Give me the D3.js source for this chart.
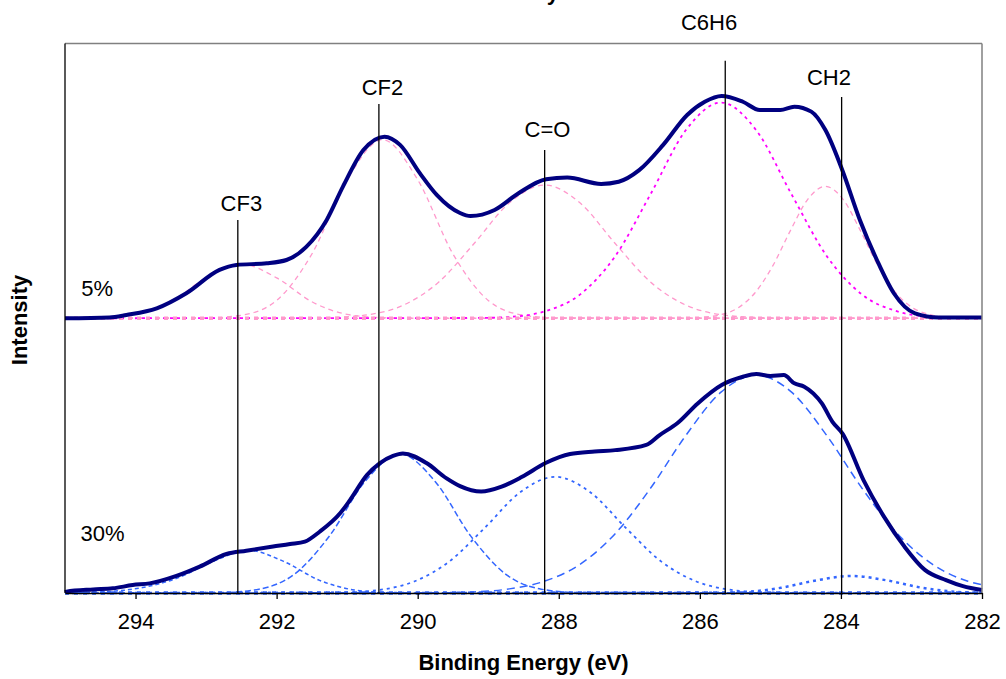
<!DOCTYPE html>
<html>
<head>
<meta charset="utf-8">
<script src="https://cdn.jsdelivr.net/npm/d3@7/dist/d3.min.js"></script>
<style>
body { margin: 0; background: #fff; }
text { font-family: Arial, "Liberation Sans", sans-serif; }
</style>
</head>
<body>
<div id="chart"></div>
<script>
var margin = { left: 65, right: 24, top: 43.5, bottom: 86 };
var width = 1006 - margin.left - margin.right;
var height = 679 - margin.top - margin.bottom;

// axis
var xTicks = [294, 292, 290, 288, 286, 284, 282];

// the two spectra, stacked
var sampleLabels = ["5%", "30%"];
var offsets = [100, 0];
var sampleLabelX = [294.77, 294.78];
var sampleLabelY = [8.1, 18.9];

// peak markers
var peakNames = ["CF3", "CF2", "C=O", "C6H6", "CH2"];
var peakEnergy = [292.55, 290.55, 288.2, 285.64, 283.99];
var peakLineTop = [135.8, 178, 161.2, 193.7, 180.5];
var peakLabelX = [292.5, 290.5, 288.16, 285.87, 284.17];
var peakLabelY = [139.2, 181.1, 166, 204.9, 184.9];

// 5% envelope [eV, intensity]
var env5 = [[295, 0], [294.37, 0.3], [294.13, 1.2], [293.7, 3.6], [293.28, 9.1], [292.81, 17.6],
  [292.57, 19.4], [292.14, 20.0], [291.86, 21.2], [291.58, 26.0], [291.29, 35.8], [291.06, 47.9],
  [290.77, 61.2], [290.47, 66.1], [290.25, 63.1], [289.97, 52.8], [289.73, 44.9], [289.4, 38.3],
  [289.25, 37.2], [288.91, 39.4], [288.57, 45.5], [288.18, 50.6], [287.88, 51.2], [287.4, 48.9],
  [287.15, 49.7], [286.86, 53.9], [286.52, 63.1], [286.18, 74.0], [285.93, 78.8], [285.69, 80.9],
  [285.39, 78.8], [285.15, 75.8], [284.86, 75.8], [284.66, 77.0], [284.42, 75.2], [284.22, 68.5],
  [283.98, 53.9], [283.73, 35.7], [283.49, 21.2], [283.25, 9.1], [282.95, 1.8], [282.61, 0.3], [282, 0.3]];

// 5% fitted components
var cf3_5 = [[295, 0], [294.5, 0.2], [294, 1.4], [293.5, 6.0], [293, 14.7], [292.5, 19.7], [292, 14.7],
  [291.5, 6.0], [291, 1.4], [290.5, 0.2], [290, 0], [282, 0]];
var cf2_5 = [[295, 0], [293, 0.1], [292.5, 1.1], [292, 6.5], [291.5, 23.4], [291, 50.4], [290.5, 65],
  [290, 50.4], [289.5, 23.4], [289, 6.5], [288.5, 1.1], [288, 0.1], [282, 0]];
var co_5 = [[295, 0], [291.7, 0], [291.2, 0.3], [290.7, 1.3], [290.2, 4.8], [289.7, 13.2], [289.2, 27.2],
  [288.7, 42.0], [288.2, 48.5], [287.7, 42.0], [287.2, 27.2], [286.7, 13.2], [286.2, 4.8], [285.7, 1.3],
  [285.2, 0.3], [284.7, 0], [282, 0]];
var c6h6_5 = [[295, 0], [289.2, 0.1], [288.7, 0.5], [288.2, 2.5], [287.7, 8.6], [287.2, 22.6], [286.7, 45.1],
  [286.2, 68.4], [285.7, 78.5], [285.2, 68.4], [284.7, 45.1], [284.2, 22.6], [283.7, 8.6], [283.2, 2.5],
  [282.7, 0.5], [282.2, 0.1], [282, 0]];
var ch2_5 = [[295, 0], [286.22, 0], [285.97, 0.3], [285.72, 1.2], [285.47, 3.6], [285.22, 9.2], [284.97, 18.9],
  [284.72, 31.7], [284.47, 43.3], [284.22, 48], [283.97, 43.3], [283.72, 31.7], [283.47, 18.9], [283.22, 9.2],
  [282.97, 3.6], [282.72, 1.2], [282.47, 0.3], [282.22, 0], [282, 0]];

// 30% envelope
var env30 = [[295, 0.3], [294.98, 0.5], [294.6, 1.3], [294.32, 1.7], [294.04, 2.9], [293.8, 3.5], [293.42, 6.2],
  [293.09, 9.6], [292.71, 14.2], [292.43, 15.4], [292.05, 16.9], [291.81, 17.8], [291.6, 18.7], [291.39, 22.3],
  [291.1, 29.0], [290.96, 33.8], [290.72, 42.9], [290.54, 47.2], [290.35, 49.9], [290.21, 50.8], [289.87, 47.2],
  [289.59, 41.7], [289.4, 38.9], [289.1, 36.9], [288.81, 38.7], [288.52, 42.3], [288.18, 47.4], [287.84, 50.6],
  [287.49, 51.5], [287.2, 52.0], [286.76, 53.9], [286.57, 57.5], [286.32, 61.8], [286.03, 69.0], [285.69, 75.7],
  [285.39, 78.7], [285.2, 79.7], [285.0, 79.0], [284.81, 79.3], [284.66, 76.3], [284.52, 75.1], [284.27, 69.0],
  [284.12, 62.3], [283.98, 58.1], [283.68, 41.1], [283.39, 27.8], [283.1, 16.9], [282.81, 8.4], [282.51, 4.7],
  [282.27, 2.5], [282, 1.1]];

// 30% fitted components
var cf3_30 = [[295, 0], [294.9, 0.1], [294.4, 0.5], [293.9, 2.0], [293.4, 5.5], [292.9, 11.5], [292.4, 15.5],
  [291.9, 11.5], [291.4, 4.7], [290.9, 1.1], [290.4, 0.1], [289.9, 0], [282, 0]];
var cf2_30 = [[295, 0], [292.75, 0.2], [292.25, 1.4], [291.75, 6.8], [291.25, 20.8], [290.75, 40.5], [290.25, 50.6],
  [289.75, 40.5], [289.25, 20.8], [288.75, 6.8], [288.25, 1.4], [287.75, 0.2], [282, 0]];
var co_30 = [[295, 0], [291.05, 0.2], [290.55, 1.1], [290.05, 4.2], [289.55, 11.5], [289.05, 23.7], [288.55, 36.6],
  [288.05, 42.3], [287.55, 36.6], [287.05, 23.7], [286.55, 11.5], [286.05, 4.2], [285.55, 1.1], [285.05, 0.2], [282, 0]];
var c6h6_30 = [[295, 0], [289.7, 0.1], [289.2, 0.4], [288.7, 1.5], [288.2, 4.3], [287.7, 10.4], [287.2, 21.6],
  [286.7, 38.1], [286.2, 57.3], [285.7, 73.1], [285.2, 79.3], [284.7, 73.1], [284.2, 57.3], [283.7, 38.1],
  [283.2, 21.6], [282.7, 10.4], [282.2, 4.3], [282, 3.0]];
var ch2_30 = [[295, 0], [285.85, 0.05], [285.35, 0.4], [284.85, 1.9], [284.35, 4.6], [283.85, 6.2], [283.35, 4.6],
  [282.85, 1.9], [282.35, 0.4], [282, 0.1]];

var flat = [[295, 0], [282, 0]];

var svg = d3.select("#chart").append("svg")
  .attr("width", 1006)
  .attr("height", 679);

var g = svg.append("g")
  .attr("transform", "translate(" + margin.left + "," + margin.top + ")");

var x = d3.scaleLinear().domain([295, 282]).range([0, width]);
var y = d3.scaleLinear().domain([0, 200]).range([height, 0]);

function curve(off) {
  return d3.line()
    .x(function(d) { return x(d[0]); })
    .y(function(d) { return y(d[1] + off); })
    .curve(d3.curveMonotoneX);
}

function sorted(arr) {
  return arr.slice().sort(function(a, b) { return b[0] - a[0]; });
}

// components: [data, offset, colour, width, dash]
var comps = [
  [cf3_5, 100, "#ff99cc", 1.3, "5,4"],
  [cf2_5, 100, "#ff99cc", 1.3, "5,4"],
  [co_5, 100, "#ff99cc", 1.3, "5,4"],
  [ch2_5, 100, "#ff99cc", 1.3, "5,4"],
  [c6h6_5, 100, "#ff00ff", 1.8, "3,4"],
  [flat, 100, "#ff99cc", 3.5, "4,5"],
  [cf3_30, 0, "#3366ff", 1.5, "4,3"],
  [cf2_30, 0, "#3366ff", 1.5, "6,3"],
  [co_30, 0, "#3366ff", 1.8, "3,4"],
  [c6h6_30, 0, "#3366ff", 1.5, "8,5"],
  [ch2_30, 0, "#3366ff", 2.5, "3,4"],
  [flat, 0, "#3366ff", 3.5, "4,5"]
];

comps.forEach(function(c) {
  g.append("path")
    .attr("d", curve(c[1])(sorted(c[0])))
    .attr("fill", "none")
    .attr("stroke", c[2])
    .attr("stroke-width", c[3])
    .attr("stroke-dasharray", c[4]);
});

// envelopes
[env5, env30].forEach(function(e, i) {
  g.append("path")
    .attr("d", curve(offsets[i])(sorted(e)))
    .attr("fill", "none")
    .attr("stroke", "#000080")
    .attr("stroke-width", 4)
    .attr("stroke-linejoin", "round");
});

// peak lines and labels
g.selectAll(".peak")
  .data(peakNames)
  .enter()
  .append("line")
    .attr("x1", function(d, i) { return x(peakEnergy[i]); })
    .attr("x2", function(d, i) { return x(peakEnergy[i]); })
    .attr("y1", function(d, i) { return y(peakLineTop[i]); })
    .attr("y2", y(0))
    .attr("stroke", "#000")
    .attr("stroke-width", 1.3);

g.selectAll(".peakLabel")
  .data(peakNames)
  .enter()
  .append("text")
    .attr("x", function(d, i) { return x(peakLabelX[i]); })
    .attr("y", function(d, i) { return y(peakLabelY[i]); })
    .attr("text-anchor", "middle")
    .attr("font-size", 22)
    .text(function(d) { return d; });

g.selectAll(".sampleLabel")
  .data(sampleLabels)
  .enter()
  .append("text")
    .attr("x", function(d, i) { return x(sampleLabelX[i]); })
    .attr("y", function(d, i) { return y(sampleLabelY[i] + offsets[i]); })
    .attr("font-size", 22)
    .text(function(d) { return d; });

// frame
g.append("line").attr("x1", 0).attr("x2", width).attr("y1", 0).attr("y2", 0)
  .attr("stroke", "#808080").attr("stroke-width", 1.5);
g.append("line").attr("x1", width).attr("x2", width).attr("y1", 0).attr("y2", height)
  .attr("stroke", "#808080").attr("stroke-width", 1.5);
g.append("line").attr("x1", 0).attr("x2", 0).attr("y1", 0).attr("y2", height)
  .attr("stroke", "#000").attr("stroke-width", 1.3);

var xAxis = g.append("g")
  .attr("transform", "translate(0," + height + ")")
  .call(d3.axisBottom(x).tickValues(xTicks).tickSize(6).tickSizeOuter(0).tickPadding(14));
xAxis.select(".domain").attr("stroke", "#000").attr("stroke-width", 1.3);
xAxis.selectAll(".tick line").attr("stroke", "#000").attr("stroke-width", 1.3);
xAxis.selectAll(".tick text")
  .attr("font-size", 22)
  .attr("font-family", "Arial, 'Liberation Sans', sans-serif")
  .attr("fill", "#000");

// titles
svg.append("text")
  .attr("x", margin.left + width / 2)
  .attr("y", 670)
  .attr("text-anchor", "middle")
  .attr("font-size", 22)
  .attr("font-weight", "bold")
  .text("Binding Energy (eV)");

svg.append("text")
  .attr("transform", "translate(27,320) rotate(-90)")
  .attr("text-anchor", "middle")
  .attr("font-size", 22)
  .attr("font-weight", "bold")
  .text("Intensity");

// chart title sits above the top edge, only its descender shows
svg.append("text")
  .attr("x", 559)
  .attr("y", 0)
  .attr("text-anchor", "end")
  .attr("font-size", 22)
  .attr("font-weight", "bold")
  .text("C1s Chemistry");
</script>
</body>
</html>
